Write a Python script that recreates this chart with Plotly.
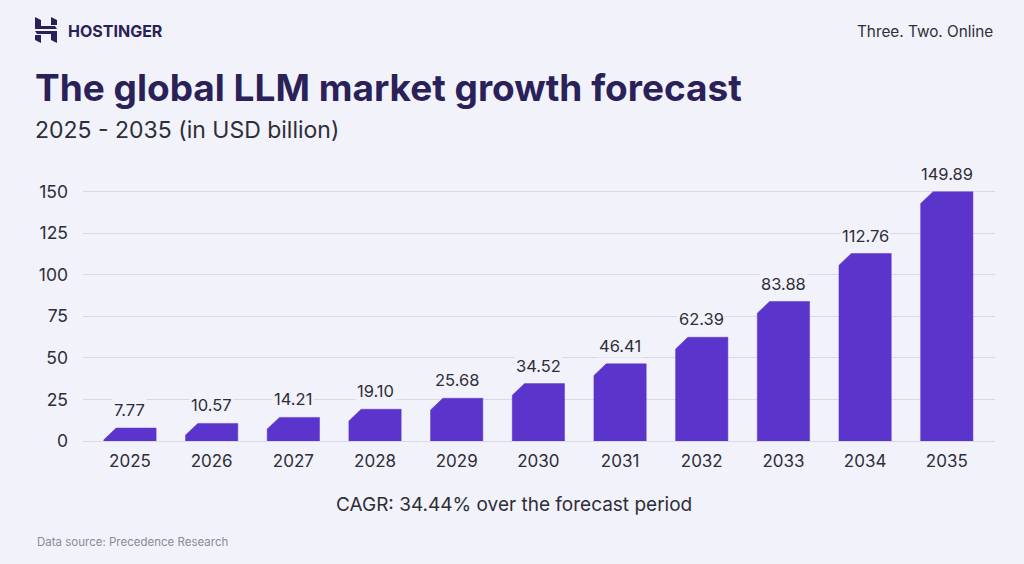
import plotly.graph_objects as go

# --- data ---
years = ["2025", "2026", "2027", "2028", "2029", "2030", "2031", "2032", "2033", "2034", "2035"]
market_size = [7.77, 10.57, 14.21, 19.10, 25.68, 34.52, 46.41, 62.39, 83.88, 112.76, 149.89]
y_ticks = [0, 25, 50, 75, 100, 125, 150]

W, H = 1024, 564
M_L, M_R, M_T, M_B = 83, 29, 175, 123
BG = "#F2F2FB"
BAR = "#5B34CC"
NAVY = "#2B2159"
INK = "#2E2E38"
FONT = "Inter"

BAR_W = 0.64       # bar width in category units
CUT_X = 0.15       # chamfer on the top-left corner
CUT_Y = 7.0


def px_x(px):
    return (px - M_L) / (W - M_L - M_R)


def px_y(py):
    return (H - M_B - py) / (H - M_T - M_B)


fig = go.Figure()

# bars with a clipped top-left corner
for i, v in enumerate(market_size):
    cy = min(CUT_Y, v * 0.92)
    x0, x1 = i - BAR_W / 2, i + BAR_W / 2
    fig.add_trace(
        go.Scatter(
            x=[x0, x0, x0 + CUT_X, x1, x1, x0],
            y=[0, v - cy, v, v, 0, 0],
            mode="lines",
            fill="toself",
            fillcolor=BAR,
            line=dict(color=BAR, width=0.5),
            hoverinfo="skip",
            showlegend=False,
        )
    )
    fig.add_annotation(
        x=i, y=v, yshift=18, text=f"{v:.2f}", showarrow=False,
        font=dict(family=FONT, size=16.5, color=INK), bgcolor=BG,
        xref="x", yref="y",
    )

# header / footer texts
texts = [
    (66, 31, "<b>HOSTINGER</b>", 16, NAVY, "left"),
    (995, 31, "Three. Two. Online", 15.3, INK, "right"),
    (33, 87, "<b>The global LLM market growth forecast</b>", 37, NAVY, "left"),
    (33, 130, "2025 - 2035 (in USD billion)", 23, INK, "left"),
    (514, 504, "CAGR: 34.44% over the forecast period", 19, INK, "center"),
    (35, 542, "Data source: Precedence Research", 11.5, "#8A8A96", "left"),
]
for x, y, t, size, color, anchor in texts:
    fig.add_annotation(
        x=px_x(x), y=px_y(y), xref="paper", yref="paper", text=t,
        showarrow=False, xanchor=anchor, yanchor="middle",
        font=dict(family=FONT, size=size, color=color),
    )

# logo
logo_parts = [
    [(0, 0), (6, 3), (6, 9), (20, 9), (22, 12), (0, 12)],
    [(16, 0), (22, 3), (22, 8), (16, 8)],
    [(22, 26), (16, 23), (16, 17), (2, 17), (0, 14), (22, 14)],
    [(0, 18), (6, 18), (6, 26), (0, 23)],
]
LX, LY = 35, 17
for part in logo_parts:
    path = "M " + " L ".join(f"{px_x(LX + a):.5f},{px_y(LY + b):.5f}" for a, b in part) + " Z"
    fig.add_shape(type="path", path=path, xref="paper", yref="paper",
                  fillcolor=NAVY, line=dict(width=0))

fig.update_layout(
    width=W,
    height=H,
    margin=dict(l=M_L, r=M_R, t=M_T, b=M_B),
    paper_bgcolor=BG,
    plot_bgcolor=BG,
    font=dict(family=FONT, color=INK),
)
fig.update_xaxes(
    range=[-0.575, 10.59],
    tickmode="array",
    tickvals=list(range(len(years))),
    ticktext=years,
    tickfont=dict(size=17, color=INK),
    showgrid=False,
    zeroline=False,
    ticks="",
    ticklabelstandoff=8,
    fixedrange=True,
)
fig.update_yaxes(
    range=[0, 160],
    tickvals=y_ticks,
    tickfont=dict(size=17.5, color=INK),
    gridcolor="#D9D9E6",
    gridwidth=1,
    zeroline=True,
    zerolinecolor="#D9D9E6",
    zerolinewidth=1,
    ticks="",
    ticklabelstandoff=14,
    fixedrange=True,
)

# page has a default body margin; drop it so the figure fills the window
fig.write_html(
    "out.html",
    config={"displayModeBar": False},
    post_script="document.body.style.margin='0';",
)
